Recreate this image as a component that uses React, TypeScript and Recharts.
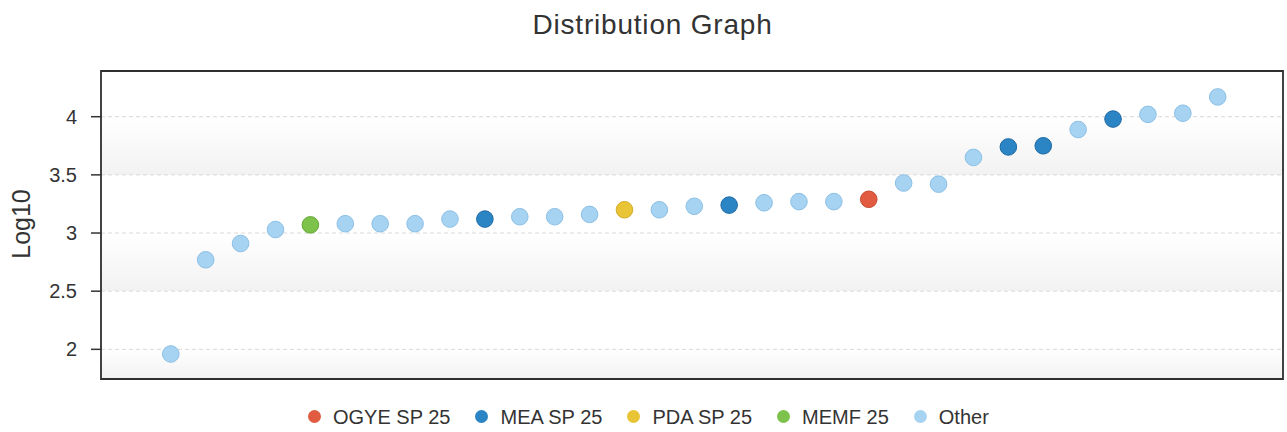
import React from 'react';
import { ScatterChart, Scatter, XAxis, YAxis, CartesianGrid, ReferenceArea, Legend } from 'recharts';

const ranks = [1, 2, 3, 4, 5, 6, 7, 8, 9, 10, 11, 12, 13, 14, 15, 16, 17, 18, 19, 20, 21, 22, 23, 24, 25, 26, 27, 28, 29, 30, 31];
const values = [1.96, 2.77, 2.91, 3.03, 3.07, 3.08, 3.08, 3.08, 3.12, 3.12, 3.14, 3.14, 3.16, 3.2, 3.2, 3.23, 3.24, 3.26, 3.27, 3.27, 3.29, 3.43, 3.42, 3.65, 3.74, 3.75, 3.89, 3.98, 4.02, 4.03, 4.17];
const groups = [
  'Other', 'Other', 'Other', 'Other', 'MEMF 25', 'Other', 'Other', 'Other', 'Other', 'MEA SP 25',
  'Other', 'Other', 'Other', 'PDA SP 25', 'Other', 'Other', 'MEA SP 25', 'Other', 'Other', 'Other',
  'OGYE SP 25', 'Other', 'Other', 'Other', 'MEA SP 25', 'MEA SP 25', 'Other', 'MEA SP 25', 'Other', 'Other', 'Other',
];
const seriesNames = ['OGYE SP 25', 'MEA SP 25', 'PDA SP 25', 'MEMF 25', 'Other'];
const seriesFill = ['#e05b40', '#2b84c4', '#e8c436', '#7dc24b', '#a6d3f2'];
const seriesStroke = ['#c94a31', '#1e6aa4', '#d3ad2a', '#65a83a', '#8bbfe5'];
const yTicks = [2, 2.5, 3, 3.5, 4];
const yDomain = [1.745, 4.393];
const xDomain = [-1, 32.87];

const FONT = '"Liberation Sans", Arial, sans-serif';

const seriesData = seriesNames.map((name) =>
  ranks
    .map((r, i) => ({ x: r, y: values[i], g: groups[i] }))
    .filter((d) => d.g === name)
);

const YLabel = () => (
  <text
    x={30}
    y={224}
    transform="rotate(-90 30 224)"
    textAnchor="middle"
    fontSize={25}
    fontFamily={FONT}
    fill="#333"
  >
    Log10
  </text>
);

const renderLegend = () => (
  <div
    style={{
      display: 'flex',
      alignItems: 'center',
      height: 24,
      paddingLeft: 308,
      fontFamily: FONT,
      fontSize: 20,
      color: '#333',
      lineHeight: '24px',
      whiteSpace: 'nowrap',
    }}
  >
    {seriesNames.map((n, i) => (
      <div key={n} style={{ display: 'flex', alignItems: 'center', marginRight: 25 }}>
        <span
          style={{
            display: 'inline-block',
            width: 13,
            height: 13,
            borderRadius: '50%',
            background: seriesFill[i],
            marginRight: 12,
            marginTop: -2,
          }}
        />
        <span>{n}</span>
      </div>
    ))}
  </div>
);

export default function App() {
  return (
    <div style={{ position: 'relative', width: 1287, height: 432, overflow: 'hidden', background: '#fff' }}>
      <style>{'body{margin:0;}'}</style>
      <div
        style={{
          position: 'absolute',
          top: 9,
          left: 0,
          width: 1287,
          paddingLeft: 18,
          boxSizing: 'border-box',
          textAlign: 'center',
          fontFamily: FONT,
          fontSize: 28,
          lineHeight: '32px',
          letterSpacing: 0.8,
          color: '#333',
        }}
      >
        Distribution Graph
      </div>
      <ScatterChart width={1287} height={432} margin={{ top: 71, right: 4, bottom: 53, left: 0 }}>
        <defs>
          <linearGradient id="bandGrad" x1="0" y1="0" x2="0" y2="1">
            <stop offset="0%" stopColor="#ffffff" />
            <stop offset="100%" stopColor="#f2f2f2" />
          </linearGradient>
        </defs>
        <CartesianGrid
          horizontal
          vertical={false}
          stroke="#d9d9d9"
          strokeDasharray="4 3"
          horizontalFill={['#ffffff', 'url(#bandGrad)']}
        />
        <XAxis type="number" dataKey="x" domain={xDomain} hide allowDataOverflow />
        <YAxis
          type="number"
          dataKey="y"
          domain={yDomain}
          ticks={yTicks}
          allowDataOverflow
          width={101}
          tickSize={10}
          tickMargin={14}
          axisLine={false}
          tickLine={{ stroke: '#333', strokeWidth: 1.5 }}
          tick={{ fill: '#333', fontSize: 20, fontFamily: FONT }}
          label={<YLabel />}
        />
        <ReferenceArea
          x1={xDomain[0]}
          x2={xDomain[1]}
          y1={yDomain[0]}
          y2={yDomain[1]}
          fill="none"
          stroke="#2f2f2f"
          strokeWidth={1.8}
          ifOverflow="extendDomain"
        />
        {seriesNames.map((n, i) => (
          <Scatter
            key={n}
            name={n}
            data={seriesData[i]}
            isAnimationActive={false}
            shape={(p: any) => (
              <circle cx={p.cx} cy={p.cy} r={8.3} fill={seriesFill[i]} stroke={seriesStroke[i]} strokeWidth={1} />
            )}
          />
        ))}
        <Legend
          layout="horizontal"
          verticalAlign="middle"
          align="center"
          wrapperStyle={{ position: 'absolute', top: 405, left: 0, width: 1287 }}
          content={renderLegend}
        />
      </ScatterChart>
    </div>
  );
}
